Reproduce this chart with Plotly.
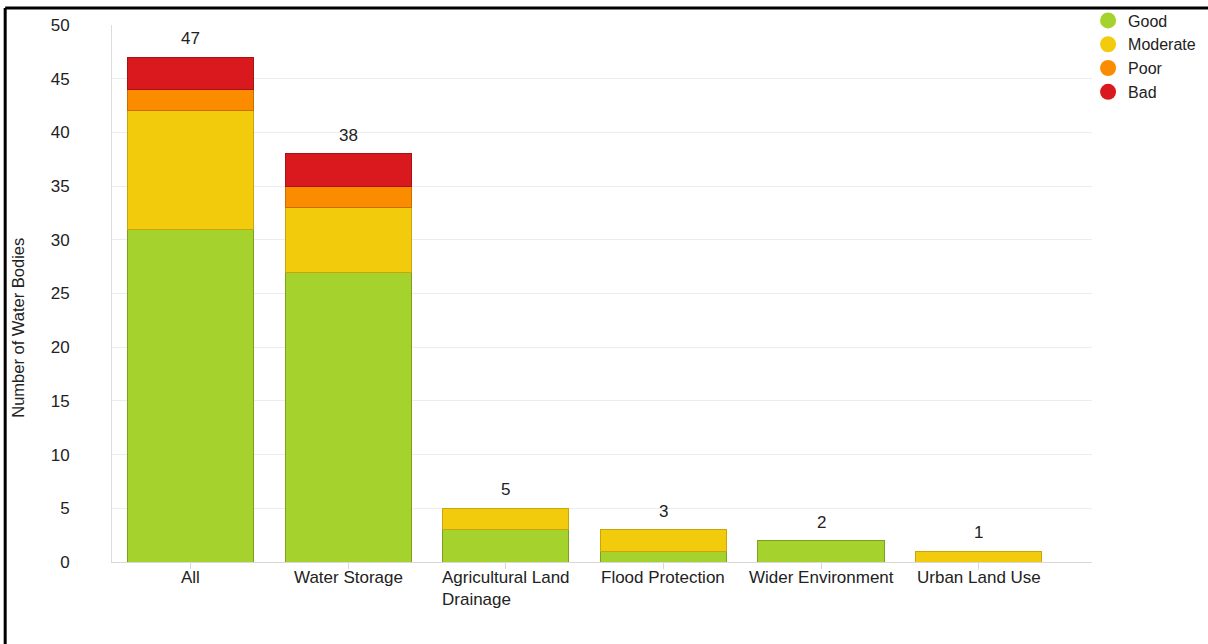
import plotly.graph_objects as go

categories = ["All", "Water Storage", "Agricultural Land<br>Drainage", "Flood Protection",
              "Wider Environment", "Urban Land Use"]
good = [31, 27, 3, 1, 2, 0]
moderate = [11, 6, 2, 2, 0, 1]
poor = [2, 2, 0, 0, 0, 0]
bad = [3, 3, 0, 0, 0, 0]
series_names = ["Good", "Moderate", "Poor", "Bad"]
series_values = [good, moderate, poor, bad]
fill_colors = ["#A6D22E", "#F2CB0C", "#FB8C00", "#D9191E"]
line_colors = ["#7E9E22", "#C9A40A", "#C96F00", "#A81216"]
y_ticks = [0, 5, 10, 15, 20, 25, 30, 35, 40, 45, 50]

totals = [sum(v) for v in zip(*series_values)]
idx = list(range(len(categories)))
FONT = "Liberation Sans, Arial"

fig = go.Figure()
for name, vals, fc, lc in zip(series_names, series_values, fill_colors, line_colors):
    fig.add_trace(go.Bar(
        x=idx, y=[v if v else None for v in vals], name=name, width=0.8,
        marker=dict(color=fc, line=dict(color=lc, width=1)),
        showlegend=False, hoverinfo="y+name",
    ))
    fig.add_trace(go.Scatter(
        x=[None], y=[None], mode="markers", name=name,
        marker=dict(symbol="circle", size=19, color=fc),
        showlegend=True,
    ))

annotations = []
for i, t in enumerate(totals):
    annotations.append(dict(
        x=i, y=t, xref="x", yref="y", text=str(t), showarrow=False,
        xanchor="center", yanchor="bottom", yshift=7,
        font=dict(size=17, color="#222", family=FONT),
    ))
for i, c in enumerate(categories):
    annotations.append(dict(
        x=i, y=0, xref="x", yref="y", text=c, showarrow=False,
        xanchor="center", yanchor="top", align="left", yshift=-4,
        font=dict(size=17, color="#222", family=FONT),
    ))
annotations.append(dict(
    x=-0.096, y=0.436, xref="paper", yref="paper", text="Number of Water Bodies",
    textangle=-90, showarrow=False, xanchor="center", yanchor="middle",
    font=dict(size=16.5, color="#222", family=FONT),
))

fig.update_layout(
    barmode="stack",
    width=1208, height=644,
    margin=dict(l=112, r=116, t=25, b=82, autoexpand=False),
    paper_bgcolor="white", plot_bgcolor="white",
    font=dict(family=FONT, size=17, color="#222"),
    legend=dict(x=0.996, y=1.04, xanchor="left", yanchor="top", traceorder="normal",
                font=dict(size=16, color="#222"), itemsizing="trace",
                tracegroupgap=0, bgcolor="rgba(0,0,0,0)"),
    annotations=annotations,
    shapes=[
        dict(type="line", xref="paper", yref="paper", x0=-0.109, x1=1.2,
             y0=1.0317, y1=1.0317, line=dict(color="black", width=3)),
        dict(type="line", xref="paper", yref="paper", x0=-0.109, x1=-0.109,
             y0=1.0317, y1=-0.2, line=dict(color="black", width=3)),
    ],
)
fig.update_xaxes(
    range=[-0.5, 5.72], tickvals=idx, showticklabels=False,
    tickson="boundaries", ticks="outside", ticklen=6, tickcolor="#d8d8d8",
    showgrid=False, showline=True, linecolor="#d8d8d8", linewidth=1,
    zeroline=False,
)
fig.update_yaxes(
    range=[0, 50], tickvals=y_ticks, showgrid=True, gridcolor="#ececec",
    showline=True, linecolor="#dcdcdc", zeroline=False,
    ticks="", tickfont=dict(size=17, color="#222", family=FONT),
    ticklabelstandoff=38,
)

fig.write_html("out.html")
